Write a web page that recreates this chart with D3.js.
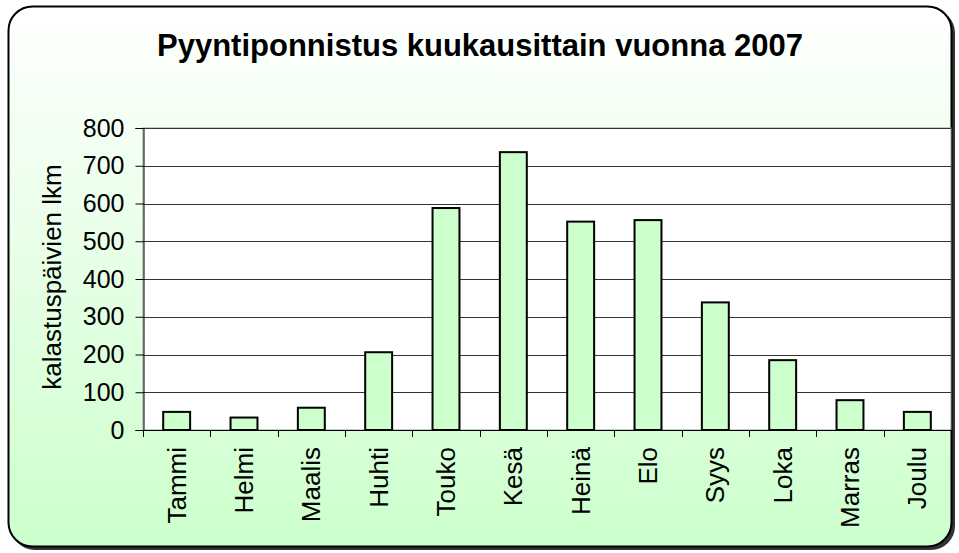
<!DOCTYPE html>
<html>
<head>
<meta charset="utf-8">
<script src="https://cdn.jsdelivr.net/npm/d3@7"></script>
<style>
  body { margin: 0; background: #fff; }
  svg { display: block; font-family: "Liberation Sans", Arial, sans-serif; }
</style>
</head>
<body>
<svg width="959" height="553"></svg>
<script>
// data
const months = ["Tammi", "Helmi", "Maalis", "Huhti", "Touko", "Kesä",
                "Heinä", "Elo", "Syys", "Loka", "Marras", "Joulu"];
const days = [48, 33, 59, 206, 588, 736, 552, 556, 338, 185, 79, 48];
const yTicks = [0, 100, 200, 300, 400, 500, 600, 700, 800];

const titleText = "Pyyntiponnistus kuukausittain vuonna 2007";
const yLabel = "kalastuspäivien lkm";

const svg = d3.select("svg");

// background gradient of the chart area
const defs = svg.append("defs");
const grad = defs.append("linearGradient")
    .attr("id", "bg")
    .attr("x1", 0).attr("y1", 0).attr("x2", 0).attr("y2", 1);
grad.append("stop").attr("offset", "0%").attr("stop-color", "#ffffff");
grad.append("stop").attr("offset", "100%").attr("stop-color", "#ccffcc");

// shadow + frame
svg.append("rect")
    .attr("x", 11).attr("y", 9)
    .attr("width", 944).attr("height", 541)
    .attr("rx", 24).attr("ry", 24)
    .attr("fill", "#333");
svg.append("rect")
    .attr("x", 8.5).attr("y", 6.5)
    .attr("width", 943).attr("height", 540)
    .attr("rx", 24).attr("ry", 24)
    .attr("fill", "url(#bg)")
    .attr("stroke", "#000")
    .attr("stroke-width", 2);

const plot = {left: 143, right: 951, top: 128, bottom: 430};

const x = d3.scaleBand()
    .domain(months)
    .range([plot.left, plot.right])
    .paddingInner(0.6)
    .paddingOuter(0.3);

const y = d3.scaleLinear()
    .domain([0, 800])
    .range([plot.bottom, plot.top]);

// plot area
svg.append("rect")
    .attr("x", plot.left).attr("y", plot.top)
    .attr("width", plot.right - plot.left)
    .attr("height", plot.bottom - plot.top)
    .attr("fill", "#fff")
    .attr("stroke", "#999")
    .attr("stroke-width", 1);

// gridlines
svg.append("g")
    .selectAll("line")
    .data(yTicks.filter(d => d > 0))
    .join("line")
    .attr("x1", plot.left).attr("x2", plot.right)
    .attr("y1", d => Math.round(y(d)) + 0.5)
    .attr("y2", d => Math.round(y(d)) + 0.5)
    .attr("stroke", "#333")
    .attr("stroke-width", 1);

// bars
svg.append("g")
    .selectAll("rect")
    .data(days)
    .join("rect")
    .attr("x", (d, i) => x(months[i]))
    .attr("y", d => y(d))
    .attr("width", x.bandwidth())
    .attr("height", d => y(0) - y(d))
    .attr("fill", "#ccffcc")
    .attr("stroke", "#000")
    .attr("stroke-width", 2);

// y axis
const yAxis = svg.append("g")
    .attr("transform", "translate(" + (plot.left + 0.5) + ",0)")
    .call(d3.axisLeft(y).tickValues(yTicks).tickSize(8).tickPadding(11));
yAxis.select(".domain").attr("stroke", "#000");
yAxis.selectAll(".tick line").attr("stroke", "#000");
yAxis.selectAll("text")
    .attr("font-size", 25)
    .attr("font-family", "Liberation Sans, Arial, sans-serif")
    .attr("fill", "#000");

// x axis, ticks between categories
const edges = d3.range(months.length + 1).map(i => plot.left + i * (plot.right - plot.left) / months.length);
const xg = svg.append("g");
xg.append("line")
    .attr("x1", plot.left).attr("x2", plot.right)
    .attr("y1", plot.bottom + 0.5).attr("y2", plot.bottom + 0.5)
    .attr("stroke", "#000");
xg.selectAll("line.tk")
    .data(edges)
    .join("line")
    .attr("class", "tk")
    .attr("x1", d => Math.round(d) + 0.5).attr("x2", d => Math.round(d) + 0.5)
    .attr("y1", plot.bottom).attr("y2", plot.bottom + 7)
    .attr("stroke", "#000");
xg.selectAll("text")
    .data(months)
    .join("text")
    .attr("transform", d => "translate(" + (x(d) + x.bandwidth() / 2 + 9) + "," + (plot.bottom + 17) + ") rotate(-90)")
    .attr("text-anchor", "end")
    .attr("font-size", 26)
    .text(d => d);

// title
svg.append("text")
    .attr("x", 480).attr("y", 56)
    .attr("text-anchor", "middle")
    .attr("font-size", 31)
    .attr("font-weight", "bold")
    .text(titleText);

// y label
svg.append("text")
    .attr("transform", "translate(61,277) rotate(-90)")
    .attr("text-anchor", "middle")
    .attr("font-size", 26)
    .text(yLabel);
</script>
</body>
</html>
